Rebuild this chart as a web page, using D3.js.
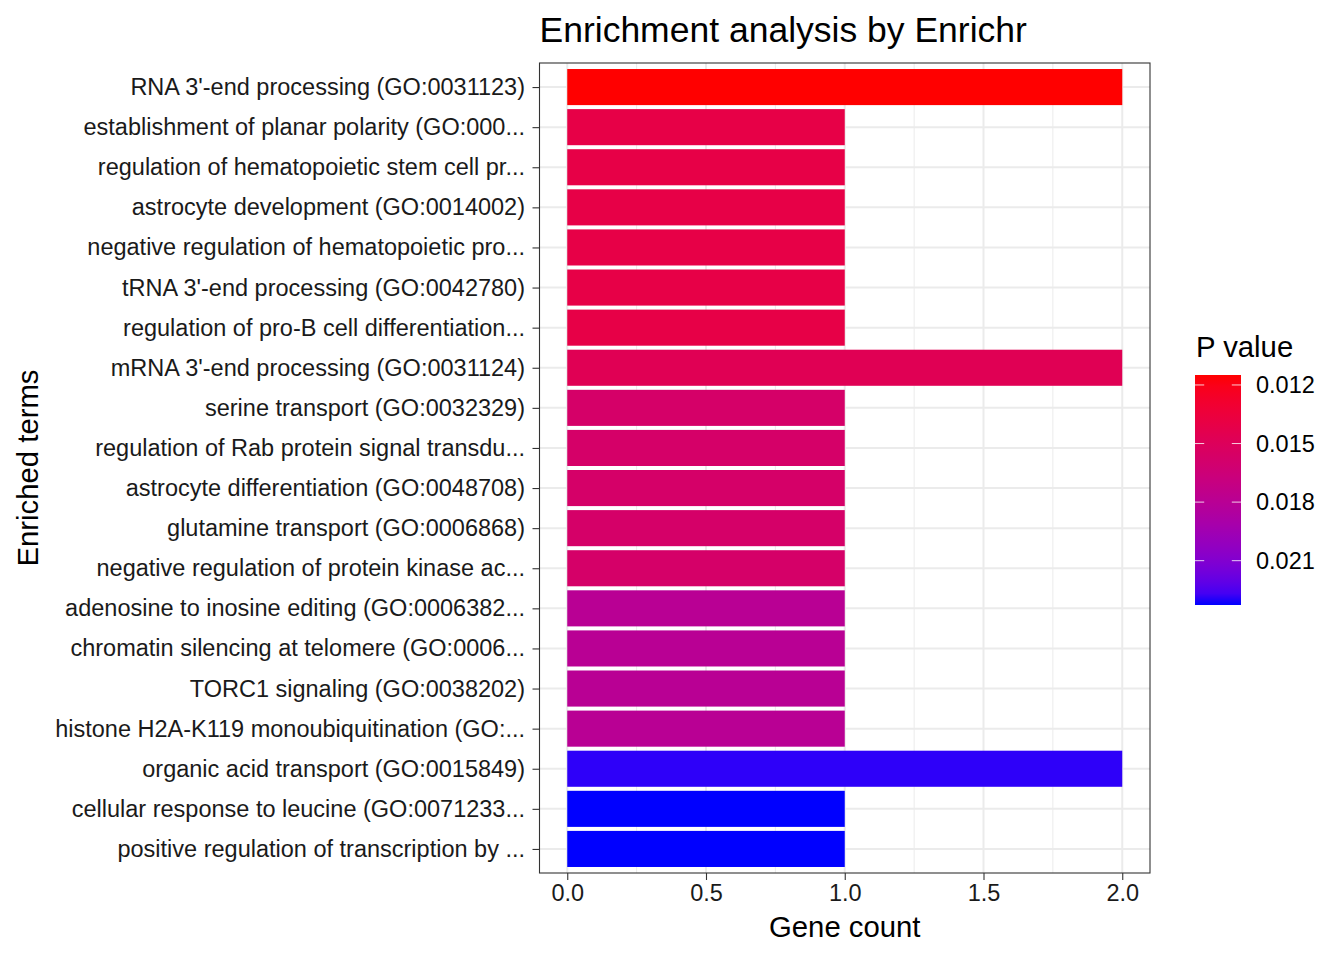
<!DOCTYPE html>
<html>
<head>
<meta charset="utf-8">
<script src="https://cdn.jsdelivr.net/npm/d3@7"></script>
<style>
  body { margin: 0; background: #fff; }
  text { font-family: "Liberation Sans", Arial, Helvetica, sans-serif; }
</style>
</head>
<body>
<div id="chart"></div>
<script>
// terms listed top to bottom, as in the plot
const terms = [
  "RNA 3'-end processing (GO:0031123)",
  "establishment of planar polarity (GO:000...",
  "regulation of hematopoietic stem cell pr...",
  "astrocyte development (GO:0014002)",
  "negative regulation of hematopoietic pro...",
  "tRNA 3'-end processing (GO:0042780)",
  "regulation of pro-B cell differentiation...",
  "mRNA 3'-end processing (GO:0031124)",
  "serine transport (GO:0032329)",
  "regulation of Rab protein signal transdu...",
  "astrocyte differentiation (GO:0048708)",
  "glutamine transport (GO:0006868)",
  "negative regulation of protein kinase ac...",
  "adenosine to inosine editing (GO:0006382...",
  "chromatin silencing at telomere (GO:0006...",
  "TORC1 signaling (GO:0038202)",
  "histone H2A-K119 monoubiquitination (GO:...",
  "organic acid transport (GO:0015849)",
  "cellular response to leucine (GO:0071233...",
  "positive regulation of transcription by ..."
];
const geneCount = [2, 1, 1, 1, 1, 1, 1, 2, 1, 1, 1, 1, 1, 1, 1, 1, 1, 2, 1, 1];
const pValue = [0.01149, 0.0140, 0.0140, 0.0140, 0.0140, 0.0140, 0.0140, 0.0147,
                0.0157, 0.0157, 0.0157, 0.0157, 0.0157, 0.0180, 0.0180, 0.0180,
                0.0180, 0.0230, 0.02327, 0.02327];
const xTicks = [0, 0.5, 1, 1.5, 2];
const xMinor = [0.25, 0.75, 1.25, 1.75];
const pTicks = [0.012, 0.015, 0.018, 0.021];

const W = 1344, H = 960;
const panel = { left: 539.5, right: 1150, top: 63, bottom: 873 };
const tickFont = 23.5, titleFont = 35.5, axisTitleFont = 29.3;

const svg = d3.select("#chart").append("svg")
  .attr("width", W).attr("height", H);

const x = d3.scaleLinear().domain([-0.1, 2.1]).range([panel.left, panel.right]);
// discrete axis with 0.6 expansion on each side
const y = d3.scaleLinear().domain([0.4, terms.length + 0.6]).range([panel.top, panel.bottom]);

const pExtent = d3.extent(pValue);
const fill = d3.scaleLinear().domain(pExtent).range(["red", "blue"]).interpolate(d3.interpolateLab);

// grid
const grid = svg.append("g");
grid.selectAll(".minor").data(xMinor).enter().append("line")
  .attr("x1", d => x(d)).attr("x2", d => x(d))
  .attr("y1", panel.top).attr("y2", panel.bottom)
  .attr("stroke", "#EBEBEB").attr("stroke-width", 1);
grid.selectAll(".major").data(xTicks).enter().append("line")
  .attr("x1", d => x(d)).attr("x2", d => x(d))
  .attr("y1", panel.top).attr("y2", panel.bottom)
  .attr("stroke", "#EBEBEB").attr("stroke-width", 2);
grid.selectAll(".hmajor").data(terms).enter().append("line")
  .attr("x1", panel.left).attr("x2", panel.right)
  .attr("y1", (d, i) => y(i + 1)).attr("y2", (d, i) => y(i + 1))
  .attr("stroke", "#EBEBEB").attr("stroke-width", 2);

// bars
const bw = (y(2) - y(1)) * 0.9;
svg.selectAll(".bar").data(geneCount).enter().append("rect")
  .attr("x", x(0))
  .attr("y", (d, i) => y(i + 1) - bw / 2)
  .attr("width", d => x(d) - x(0))
  .attr("height", bw)
  .attr("fill", (d, i) => fill(pValue[i]));

// panel border
svg.append("rect")
  .attr("x", panel.left).attr("y", panel.top)
  .attr("width", panel.right - panel.left).attr("height", panel.bottom - panel.top)
  .attr("fill", "none").attr("stroke", "#333333").attr("stroke-width", 1.1);

// x axis
const xAxis = svg.append("g").attr("transform", `translate(0,${panel.bottom})`)
  .call(d3.axisBottom(x).tickValues(xTicks).tickFormat(d3.format(".1f")).tickSizeInner(7).tickSizeOuter(0).tickPadding(4));
xAxis.select(".domain").remove();
xAxis.selectAll("line").attr("stroke", "#333333").attr("stroke-width", 1.1);
xAxis.selectAll("text").attr("font-size", tickFont).attr("fill", "#1a1a1a")
  .attr("font-family", "'Liberation Sans', Arial, sans-serif");

// y axis
const yAxis = svg.append("g").attr("transform", `translate(${panel.left},0)`)
  .call(d3.axisLeft(y).tickValues(d3.range(1, terms.length + 1)).tickFormat(d => terms[d - 1]).tickSizeInner(7).tickSizeOuter(0).tickPadding(7.5));
yAxis.select(".domain").remove();
yAxis.selectAll("line").attr("stroke", "#333333").attr("stroke-width", 1.1);
yAxis.selectAll("text").attr("font-size", tickFont).attr("fill", "#1a1a1a")
  .attr("font-family", "'Liberation Sans', Arial, sans-serif");

// titles
svg.append("text").attr("x", panel.left).attr("y", 42)
  .attr("font-size", titleFont).attr("fill", "#000").text("Enrichment analysis by Enrichr");
svg.append("text").attr("x", (panel.left + panel.right) / 2).attr("y", 937)
  .attr("text-anchor", "middle").attr("font-size", axisTitleFont).attr("fill", "#000").text("Gene count");
svg.append("text")
  .attr("transform", `translate(38,${(panel.top + panel.bottom) / 2}) rotate(-90)`)
  .attr("text-anchor", "middle").attr("font-size", axisTitleFont).attr("fill", "#000").text("Enriched terms");

// legend colourbar
const leg = { x: 1195, w: 46, top: 375, bottom: 605 };
const defs = svg.append("defs");
const grad = defs.append("linearGradient").attr("id", "pgrad")
  .attr("x1", 0).attr("y1", 0).attr("x2", 0).attr("y2", 1);
d3.range(0, 1.0001, 0.05).forEach(t => {
  grad.append("stop").attr("offset", t)
    .attr("stop-color", fill(pExtent[0] + t * (pExtent[1] - pExtent[0])));
});
const ly = d3.scaleLinear().domain(pExtent).range([leg.top, leg.bottom]);
svg.append("rect").attr("x", leg.x).attr("y", leg.top)
  .attr("width", leg.w).attr("height", leg.bottom - leg.top).attr("fill", "url(#pgrad)");
const lt = svg.append("g");
pTicks.forEach(p => {
  lt.append("line").attr("x1", leg.x).attr("x2", leg.x + leg.w / 5)
    .attr("y1", ly(p)).attr("y2", ly(p)).attr("stroke", "#fff").attr("stroke-opacity", 0.8);
  lt.append("line").attr("x1", leg.x + leg.w - leg.w / 5).attr("x2", leg.x + leg.w)
    .attr("y1", ly(p)).attr("y2", ly(p)).attr("stroke", "#fff").attr("stroke-opacity", 0.8);
  lt.append("text").attr("x", 1256).attr("y", ly(p)).attr("dy", "0.35em")
    .attr("font-size", tickFont).attr("fill", "#000").text(d3.format(".3f")(p));
});
svg.append("text").attr("x", 1196).attr("y", 357)
  .attr("font-size", axisTitleFont).attr("fill", "#000").text("P value");
</script>
</body>
</html>
